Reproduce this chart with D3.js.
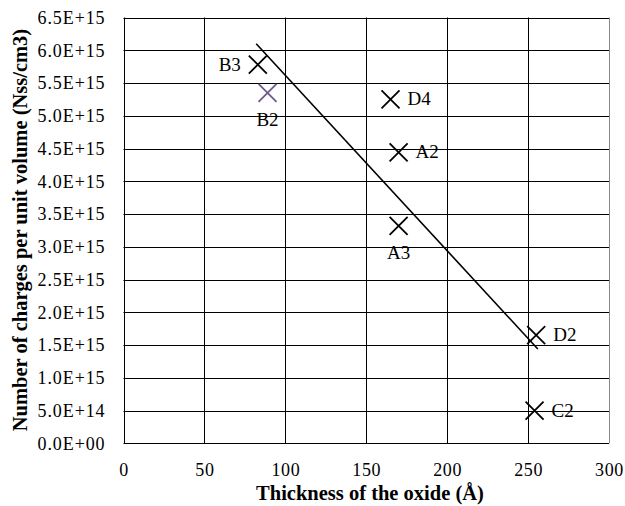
<!DOCTYPE html>
<html><head><meta charset="utf-8">
<script src="https://cdn.jsdelivr.net/npm/d3@7"></script>
<style>
body{margin:0;background:#fff}svg{display:block}
svg text{font-family:"Liberation Serif","Times New Roman",Times,"DejaVu Serif",serif;fill:#000}
</style>
</head><body>
<svg id="c" width="625" height="506"></svg>
<script>
const labels = ["B3","B2","D4","A2","A3","D2","C2"];
const thickness = [83, 89, 165, 170, 170, 255, 254];
const charges = [5.78e15, 5.35e15, 5.25e15, 4.44e15, 3.32e15, 1.65e15, 0.5e15];
const markerColors = ["#000","#6e5a8c","#000","#000","#000","#000","#000"];
const labelPos = ["left","below","right","right","below","right","right"];
const trendX = [82, 256];
const trendY = [6.10e15, 1.44e15];
const xTicks = [0,50,100,150,200,250,300];
const yTicks = d3.range(0, 14).map(i => i*0.5e15);

const svg = d3.select("#c");
const L=123.5, R=609, T=17.5, B=443.3;
const x = d3.scaleLinear().domain([0,300]).range([L,R]);
const y = d3.scaleLinear().domain([0,6.5e15]).range([B,T]);

const g = svg.append("g");
g.selectAll(".hg").data(yTicks).join("line")
  .attr("x1",L).attr("x2",R).attr("y1",d=>Math.round(y(d))+0.5).attr("y2",d=>Math.round(y(d))+0.5)
  .attr("stroke","#000").attr("stroke-width",1);
g.selectAll(".vg").data(xTicks).join("line")
  .attr("y1",T).attr("y2",B).attr("x1",d=>Math.round(x(d))+0.5).attr("x2",d=>Math.round(x(d))+0.5)
  .attr("stroke",(d,i)=> i===xTicks.length-1 ? "#888":"#000").attr("stroke-width",1);

const yAxis = d3.axisLeft(y).tickValues(yTicks).tickSize(0).tickPadding(18)
  .tickFormat(d => { const s = d3.format(".1e")(d); const [m,e]=s.split("e"); const ex = +e; return m + "E" + (ex<0?"-":"+") + String(Math.abs(ex)).padStart(2,"0"); });
const ya = svg.append("g").attr("transform",`translate(${L},0)`).call(yAxis);
ya.select(".domain").remove();
ya.selectAll("text").style("font-size","18px").style("letter-spacing","0.9px");

const xAxis = d3.axisBottom(x).tickValues(xTicks).tickSize(0).tickPadding(20);
const xa = svg.append("g").attr("transform",`translate(0,${B})`).call(xAxis);
xa.select(".domain").remove();
xa.selectAll("text").style("font-size","18px").style("letter-spacing","0.6px");

svg.append("line")
  .attr("x1",x(trendX[0])).attr("y1",y(trendY[0])).attr("x2",x(trendX[1])).attr("y2",y(trendY[1]))
  .attr("stroke","#000").attr("stroke-width",1.6);

const s = 9;
const data = labels.map((l,i)=>({l, x:thickness[i], y:charges[i], c:markerColors[i], p:labelPos[i]}));
const m = svg.selectAll(".m").data(data).join("g").attr("transform",d=>`translate(${x(d.x)},${y(d.y)})`);
m.append("path").attr("d",`M${-s},${-s}L${s},${s}M${-s},${s}L${s},${-s}`).attr("stroke",d=>d.c).attr("stroke-width",1.8).attr("fill","none");
m.append("text").text(d=>d.l)
  .style("font-size","19px")
  .attr("text-anchor",d=>d.p==="left"?"end":d.p==="below"?"middle":"start")
  .attr("x",d=>d.p==="left"?-17:d.p==="below"?0:17)
  .attr("y",d=>d.p==="below"?33:6);

svg.append("text").text("Thickness of the oxide (Å)")
  .attr("x",370).attr("y",500).attr("text-anchor","middle")
  .style("font-weight","bold").style("font-size","20.5px");
svg.append("text").text("Number of charges per unit volume (Nss/cm3)")
  .attr("transform","translate(27,230) rotate(-90)").attr("text-anchor","middle")
  .style("font-weight","bold").style("font-size","20.5px");
</script>
</body></html>
